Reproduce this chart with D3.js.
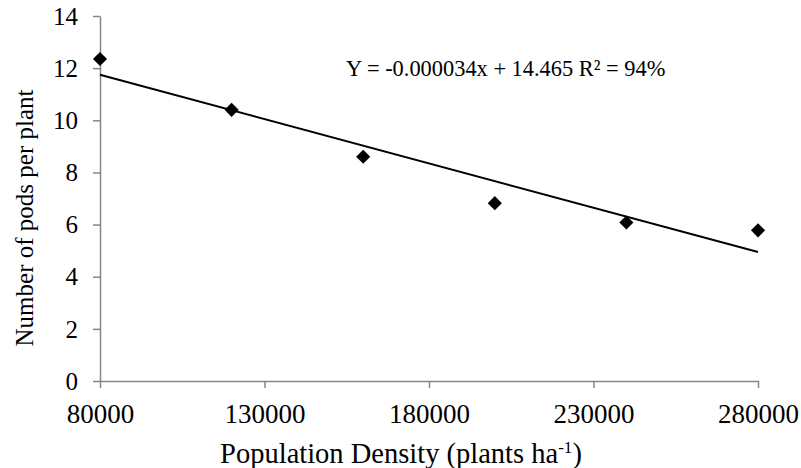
<!DOCTYPE html>
<html><head><meta charset="utf-8">
<script src="https://cdn.jsdelivr.net/npm/d3@7"></script>
<style>body{margin:0;background:#fff}svg{display:block}</style>
</head><body><div id="c"></div>
<script>
const densities = [80000, 120000, 160000, 200000, 240000, 280000];
const podsPerPlant = [12.35, 10.4, 8.6, 6.82, 6.08, 5.78];
const xTicks = [80000, 130000, 180000, 230000, 280000];
const yTicks = [0, 2, 4, 6, 8, 10, 12, 14];
const trendSlope = -0.000034;
const trendIntercept = 14.465;
const equationLabel = "Y = -0.000034x + 14.465 R\u00B2 = 94%";

const FONT = "Liberation Serif";
const W = 801, H = 468;
const svg = d3.select("#c").append("svg").attr("width", W).attr("height", H);
const x = d3.scaleLinear().domain([80000, 280000]).range([100, 758]);
const y = d3.scaleLinear().domain([0, 14]).range([381, 16]);

const gx = svg.append("g").attr("transform", "translate(0,381)")
  .call(d3.axisBottom(x).tickValues(xTicks).tickFormat(d3.format("d")).tickSize(7).tickSizeOuter(0));
const gy = svg.append("g").attr("transform", "translate(100,0)")
  .call(d3.axisLeft(y).tickValues(yTicks).tickSize(7).tickSizeOuter(0));
[gx, gy].forEach(g => {
  g.attr("font-family", null).attr("font-size", null);
  g.select(".domain").attr("stroke", "#868686").attr("stroke-width", 1.5);
  g.selectAll(".tick line").attr("stroke", "#868686").attr("stroke-width", 1.5);
  g.selectAll(".tick text").style("font-family", FONT).attr("fill", "#000");
});
gx.selectAll(".tick text").style("font-size", "27px").attr("dy", null).attr("y", 42);
gy.selectAll(".tick text").style("font-size", "25px").attr("x", -22).attr("dy", "0.33em");

// trendline
const tx = [80000, 280000];
svg.append("line")
  .attr("x1", x(tx[0])).attr("y1", y(trendSlope * tx[0] + trendIntercept))
  .attr("x2", x(tx[1])).attr("y2", y(trendSlope * tx[1] + trendIntercept))
  .attr("stroke", "#000").attr("stroke-width", 2);

// markers
const sym = d3.symbol().type(d3.symbolSquare).size(100);
svg.selectAll("path.pt").data(densities).enter().append("path").attr("class", "pt")
  .attr("d", sym)
  .attr("transform", (d, i) => `translate(${x(d)},${y(podsPerPlant[i])}) rotate(45)`)
  .attr("fill", "#000");

svg.append("text").attr("x", 346).attr("y", 76)
  .style("font-family", FONT).style("font-size", "22.4px").text(equationLabel);

const xfs = 28.5;
const xt = svg.append("text").attr("x", 401).attr("y", 463).attr("text-anchor", "middle")
  .style("font-family", FONT).style("font-size", xfs + "px");
xt.append("tspan").text("Population Density (plants ha");
xt.append("tspan").text("-1").style("font-size", (xfs * 0.6) + "px").attr("dy", -10);
xt.append("tspan").text(")").attr("dy", 10);

svg.append("text").attr("transform", "translate(33,218) rotate(-90)").attr("text-anchor", "middle")
  .style("font-family", FONT).style("font-size", "25px").text("Number of pods per plant");
</script></body></html>
